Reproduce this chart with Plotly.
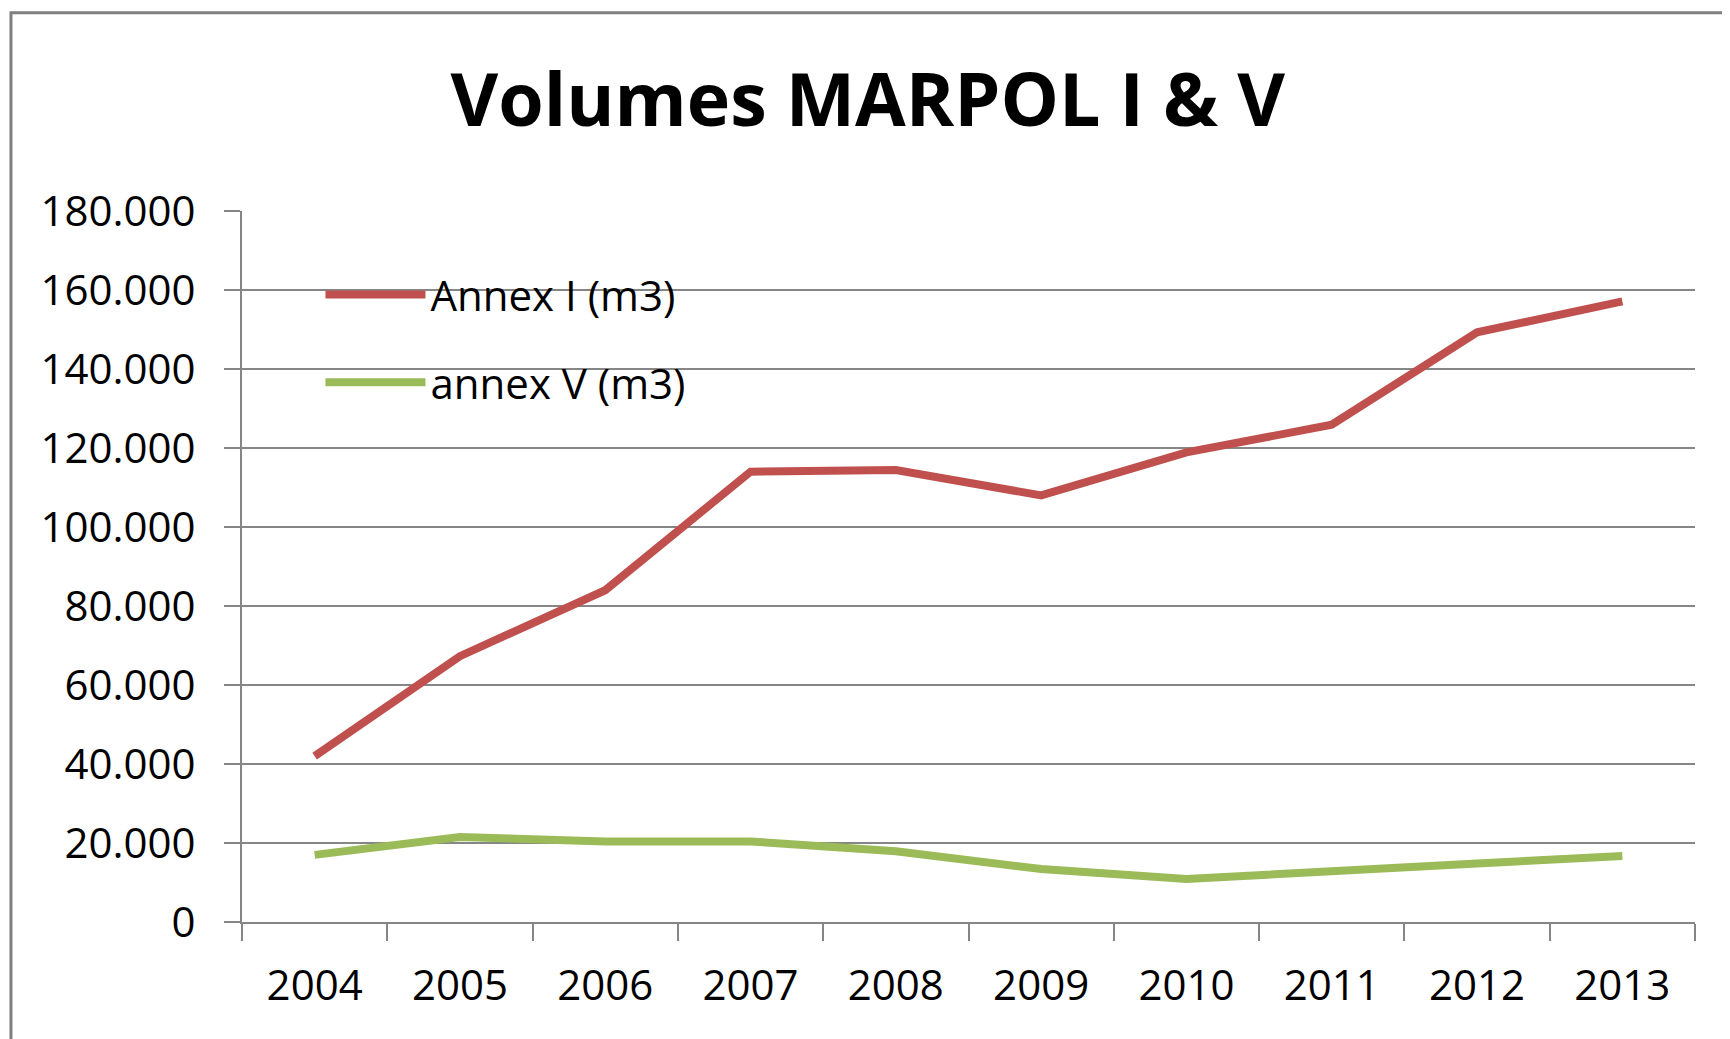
import plotly.graph_objects as go

years = ["2004", "2005", "2006", "2007", "2008", "2009", "2010", "2011", "2012", "2013"]
annex_i = [42000, 67300, 84000, 114000, 114400, 108000, 118900, 125900, 149300, 157100]
annex_v = [17000, 21500, 20400, 20400, 17900, 13400, 10900, 13100, 14800, 16700]
y_ticks = [0, 20000, 40000, 60000, 80000, 100000, 120000, 140000, 160000, 180000]

FONT = "Open Sans"
GRID = "#868686"

fig = go.Figure()
fig.add_trace(go.Scatter(x=years, y=annex_i, mode="lines", name="Annex I (m3)",
                         legendgroup="a", line=dict(color="#C0504D", width=8)))
fig.add_trace(go.Scatter(x=years, y=annex_v, mode="lines", name="annex V (m3)",
                         legendgroup="b", line=dict(color="#9BBB59", width=8)))

fig.update_layout(
    width=1730, height=1039,
    margin=dict(l=234, r=43, t=203, b=125),
    paper_bgcolor="white", plot_bgcolor="white",
    separators=",.",
    title=dict(text="<b>Volumes MARPOL I &amp; V</b>", x=0.497, xanchor="center",
               y=0.911, yanchor="middle", font=dict(family=FONT, size=73.5, color="black")),
    font=dict(family=FONT, size=42, color="black"),
    showlegend=True,
    legend=dict(x=0.054, y=0.93, xanchor="left", yanchor="top",
                bgcolor="rgba(0,0,0,0)", font=dict(family=FONT, size=42, color="black"),
                traceorder="grouped", tracegroupgap=30, itemwidth=100),
    xaxis=dict(type="category", range=[-0.5, 9.5], tickson="boundaries",
               ticks="outside", ticklen=17, tickwidth=2, tickcolor=GRID,
               showline=True, linecolor=GRID, linewidth=2, showgrid=False,
               ticklabelstandoff=26, tickfont=dict(family=FONT, size=42, color="black")),
    yaxis=dict(range=[0, 180000], tickvals=y_ticks, tickformat=",d",
               ticks="outside", ticklen=16, tickwidth=2, tickcolor=GRID,
               showline=True, linecolor=GRID, linewidth=2,
               showgrid=True, gridcolor=GRID, gridwidth=2, zeroline=False,
               ticklabelstandoff=20, tickfont=dict(family=FONT, size=42, color="black")),
    shapes=[dict(type="rect", xref="paper", yref="paper",
                 x0=-0.159, x1=2.0, y0=-1.0, y1=1.279,
                 line=dict(color="#7F7F7F", width=3), fillcolor="rgba(0,0,0,0)", layer="below")],
)

fig.write_html("out.html")
